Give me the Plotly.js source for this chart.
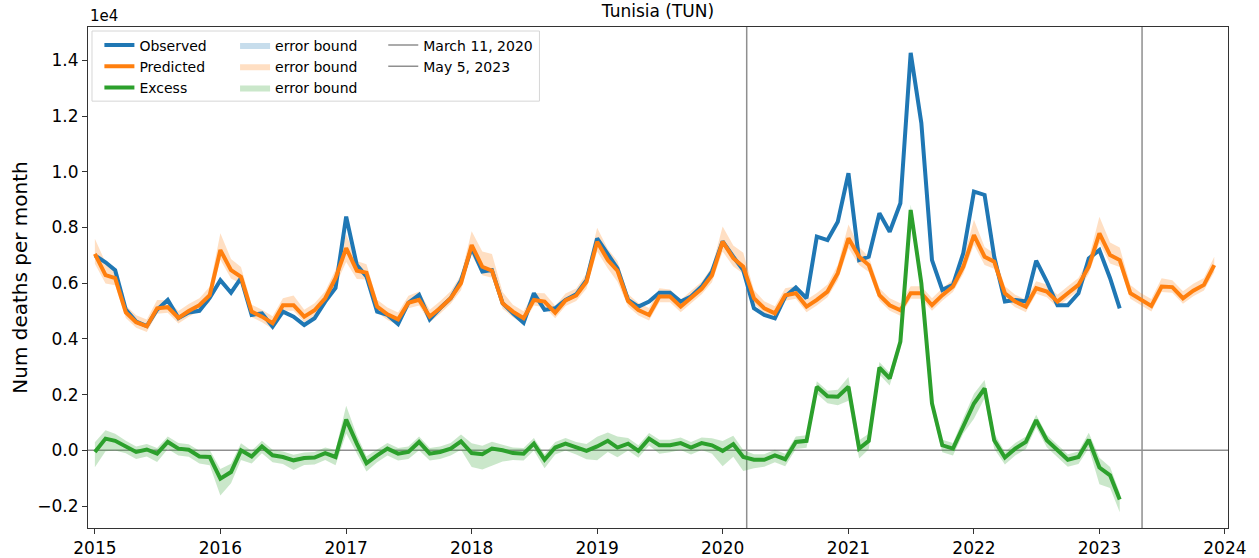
<!DOCTYPE html>
<html>
<head>
<meta charset="utf-8">
<script src="https://cdn.plot.ly/plotly-3.0.1.min.js"></script>
<style>
html,body{margin:0;padding:0;background:#fff;}
#chart{width:1259px;height:558px;}
</style>
</head>
<body>
<div id="chart"></div>
<script>
// ---- Data (monthly, starting January 2015) ----
const startYear = 2015;
const observed = [
  7000, 6750, 6470, 5050, 4620, 4460, 5050, 5400, 4750, 4950, 5010, 5470,
  6110, 5660, 6180, 4860, 4920, 4440, 4980, 4800, 4500, 4740, 5340, 5830,
  8390, 6650, 6240, 4980, 4860, 4530, 5300, 5580, 4700, 5100, 5460, 6100,
  7270, 6420, 6470, 5280, 4920, 4580, 5640, 5040, 5100, 5400, 5600, 6110,
  7610, 7010, 6530, 5400, 5160, 5340, 5660, 5660, 5340, 5520, 5880, 6420,
  7500, 6950, 6470, 5100, 4860, 4740, 5520, 5850, 5460, 7670, 7550, 8210,
  9950, 6830, 6950, 8510, 7850, 8870, 14270, 11750, 6830, 5760, 5940, 7080,
  9290, 9170, 6950, 5340, 5400, 5340, 6810, 6060, 5210, 5210, 5640, 6890,
  7190, 6180, 5100
];
const predicted = [
  7050, 6290, 6180, 4950, 4600, 4450, 5100, 5140, 4750, 5000, 5210, 5570,
  7190, 6470, 6230, 4980, 4800, 4560, 5210, 5210, 4800, 5030, 5460, 6180,
  7260, 6450, 6380, 5160, 4880, 4700, 5300, 5400, 4800, 5100, 5460, 6000,
  7370, 6590, 6450, 5280, 4980, 4740, 5400, 5340, 4940, 5380, 5560, 6050,
  7490, 6830, 6450, 5360, 5040, 4860, 5520, 5520, 5160, 5480, 5800, 6280,
  7490, 6900, 6590, 5460, 5100, 4920, 5570, 5640, 5160, 5400, 5700, 6360,
  7610, 6950, 6650, 5570, 5210, 5030, 5640, 5640, 5210, 5570, 5880, 6590,
  7730, 6950, 6770, 5640, 5340, 5160, 5820, 5700, 5340, 5640, 5940, 6590,
  7790, 7010, 6830, 5640, 5400, 5180, 5880, 5860, 5460, 5730, 5940, 6650
];
const excess = [
  -60, 420, 340, 140, -60, 30, -120, 300, 60, 20, -220, -240,
  -1020, -780, 0, -220, 140, -180, -240, -360, -280, -260, -100, -240,
  1100, 240, -460, -180, 60, -120, -60, 300, -120, -60, 60, 320,
  -100, -140, 60, 0, -100, -120, 240, -340, 100, 240, 100, -20,
  140, 340, 100, 240, -20, 420, 180, 180, 260, 100, 260, 180,
  -20, 220, -240, -340, -340, -180, -320, 300, 340, 2280, 1940, 1920,
  2280, 60, 340, 2970, 2580, 3900, 8630, 6000, 1680, 180, 60, 900,
  1680, 2220, 360, -260, 60, 300, 1080, 360, 0, -340, -240, 380,
  -620, -900, -1770
];
// upper / lower half-widths of the prediction error bound
const predErrUp = [
  550, 450, 350, 250, 250, 250, 300, 250, 250, 250, 250, 300,
  600, 400, 350, 250, 250, 250, 250, 350, 250, 250, 250, 300,
  500, 350, 300, 250, 250, 250, 250, 300, 250, 250, 250, 300,
  500, 550, 600, 400, 250, 250, 250, 300, 250, 250, 250, 300,
  500, 400, 350, 250, 250, 250, 300, 250, 250, 250, 250, 300,
  550, 450, 500, 300, 250, 250, 250, 250, 250, 250, 250, 300,
  500, 350, 300, 250, 250, 250, 250, 250, 250, 250, 250, 300,
  550, 350, 300, 250, 250, 250, 250, 250, 250, 250, 250, 300,
  600, 450, 450, 300, 250, 250, 300, 250, 250, 250, 250, 300
];
const predErrDn = [
  350, 300, 250, 200, 200, 200, 200, 200, 200, 200, 200, 250,
  350, 300, 250, 200, 200, 200, 200, 200, 200, 200, 200, 250,
  500, 300, 250, 200, 200, 200, 200, 200, 200, 200, 200, 250,
  350, 300, 250, 200, 200, 200, 200, 200, 200, 200, 200, 250,
  350, 300, 400, 200, 200, 200, 200, 200, 200, 200, 200, 250,
  350, 300, 250, 200, 200, 200, 200, 200, 200, 200, 200, 250,
  350, 300, 250, 200, 200, 200, 200, 200, 200, 200, 200, 250,
  350, 300, 250, 200, 200, 200, 200, 200, 200, 200, 200, 250,
  350, 300, 250, 200, 200, 200, 200, 200, 200, 200, 200, 250
];
const yearTicks = [2015, 2016, 2017, 2018, 2019, 2020, 2021, 2022, 2023, 2024];
const yTickVals = [-2000, 0, 2000, 4000, 6000, 8000, 10000, 12000, 14000];
const yTickText = ['\u22120.2', '0.0', '0.2', '0.4', '0.6', '0.8', '1.0', '1.2', '1.4'];
const eventDates = ['2020-03-11', '2023-05-05'];
const eventNames = ['March 11, 2020', 'May 5, 2023'];

// ---- helpers ----
function monthDate(i) {
  const y = startYear + Math.floor(i / 12);
  const m = (i % 12) + 1;
  return y + '-' + (m < 10 ? '0' + m : m) + '-01';
}
const months = predicted.map((_, i) => monthDate(i));
const obsX = months.slice(0, observed.length);
const excX = months.slice(0, excess.length);

const predLo = predicted.map((v, i) => v - predErrDn[i]);
const predHi = predicted.map((v, i) => v + predErrUp[i]);
const excLo = excess.map((v, i) => v - predErrUp[i]);
const excHi = excess.map((v, i) => v + predErrDn[i]);

const BLUE = '#1f77b4', ORANGE = '#ff7f0e', GREEN = '#2ca02c', GRAY = '#8f8f8f';
const FONT = 'DejaVu Sans, sans-serif';

function band(x, lo, hi, color, legend) {
  return [
    {x: x, y: lo, mode: 'lines', line: {width: 0, color: color}, showlegend: false, hoverinfo: 'skip', legend: legend},
    {x: x, y: hi, mode: 'lines', line: {width: 0, color: color}, fill: 'tonexty', fillcolor: color,
     name: 'error bound', legend: legend, hoverinfo: 'skip'}
  ];
}

const traces = [];
traces.push(...band(obsX, observed, observed, 'rgba(31,119,180,0.25)', 'legend2'));
traces.push(...band(months, predLo, predHi, 'rgba(255,127,14,0.25)', 'legend2'));
traces.push(...band(excX, excLo, excHi, 'rgba(44,160,44,0.25)', 'legend2'));
traces.push({x: obsX, y: observed, mode: 'lines', name: 'Observed', line: {color: BLUE, width: 4}, legend: 'legend'});
traces.push({x: months, y: predicted, mode: 'lines', name: 'Predicted', line: {color: ORANGE, width: 4}, legend: 'legend'});
traces.push({x: excX, y: excess, mode: 'lines', name: 'Excess', line: {color: GREEN, width: 4}, legend: 'legend'});
eventNames.forEach((n) => {
  traces.push({x: [null], y: [null], mode: 'lines', name: n, line: {color: GRAY, width: 1.5}, legend: 'legend3'});
});

const shapes = [
  {type: 'line', xref: 'paper', x0: 0, x1: 1, yref: 'y', y0: 0, y1: 0, line: {color: GRAY, width: 1.5}, layer: 'below'}
];
eventDates.forEach((d) => {
  shapes.push({type: 'line', xref: 'x', x0: d, x1: d, yref: 'paper', y0: 0, y1: 1, line: {color: GRAY, width: 1.5}, layer: 'below'});
});
// legend frame
shapes.push({type: 'rect', xref: 'paper', yref: 'paper', x0: 0.0035, x1: 0.396, y0: 0.852, y1: 0.992,
  line: {color: '#d6d6d6', width: 1}, fillcolor: 'rgba(255,255,255,0.8)', layer: 'above'});

const legendCommon = {font: {family: FONT, size: 14, color: '#000'}, bgcolor: 'rgba(0,0,0,0)', borderwidth: 0,
  xanchor: 'left', yanchor: 'top', orientation: 'v', tracegroupgap: 0, traceorder: 'normal'};

const layout = {
  width: 1259, height: 558,
  margin: {l: 88, r: 31, t: 27, b: 30},
  paper_bgcolor: '#fff', plot_bgcolor: '#fff',
  font: {family: FONT, color: '#000'},
  title: {text: 'Tunisia (TUN)', font: {family: FONT, size: 17, color: '#000'}, x: 0.5, xref: 'paper', xanchor: 'center', y: 0.99, yanchor: 'top'},
  xaxis: {
    type: 'date', range: ['2014-12-12', '2024-01-10'],
    tickvals: yearTicks.map(y => y + '-01-01'), ticktext: yearTicks.map(String),
    ticks: 'outside', ticklen: 5, tickcolor: '#333', tickfont: {family: FONT, size: 17},
    showline: true, linecolor: '#333', linewidth: 1, mirror: true, showgrid: false, zeroline: false
  },
  yaxis: {
    range: [-2790, 15200],
    tickvals: yTickVals, ticktext: yTickText,
    ticks: 'outside', ticklen: 5, tickcolor: '#333', tickfont: {family: FONT, size: 17},
    showline: true, linecolor: '#333', linewidth: 1, mirror: true, showgrid: false, zeroline: false,
    title: {text: 'Num deaths per month', font: {family: FONT, size: 20}, standoff: 4}
  },
  showlegend: true,
  legend: Object.assign({}, legendCommon, {x: 0.010, y: 0.995}),
  legend2: Object.assign({}, legendCommon, {x: 0.129, y: 0.995}),
  legend3: Object.assign({}, legendCommon, {x: 0.259, y: 0.995}),
  shapes: shapes,
  annotations: [
    {text: '1e4', xref: 'paper', yref: 'paper', x: 0, y: 1, xanchor: 'left', yanchor: 'bottom', showarrow: false,
     font: {family: FONT, size: 15, color: '#000'}, yshift: 0}
  ]
};

Plotly.newPlot('chart', traces, layout, {displayModeBar: false, staticPlot: true});
</script>
</body>
</html>
